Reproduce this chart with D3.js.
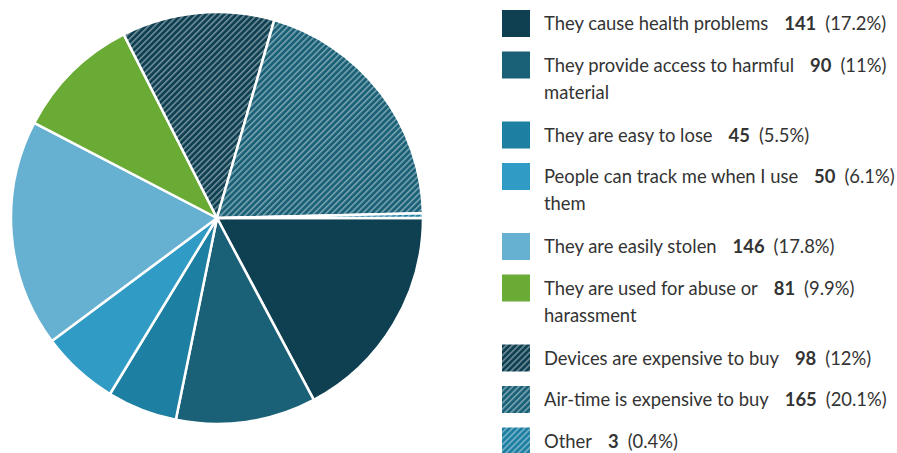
<!DOCTYPE html>
<html><head><meta charset="utf-8">
<script src="https://cdn.jsdelivr.net/npm/d3@7"></script>
<style>body{margin:0;background:#fff;} text{font-family:Lato, "Open Sans", sans-serif;}</style>
</head><body>
<svg id="c" width="897" height="453"></svg>
<script>
const categories = [
  ["They cause health problems"],
  ["They provide access to harmful", "material"],
  ["They are easy to lose"],
  ["People can track me when I use", "them"],
  ["They are easily stolen"],
  ["They are used for abuse or", "harassment"],
  ["Devices are expensive to buy"],
  ["Air-time is expensive to buy"],
  ["Other"]
];
const values = [141, 90, 45, 50, 146, 81, 98, 165, 3];
const percents = ["17.2%", "11%", "5.5%", "6.1%", "17.8%", "9.9%", "12%", "20.1%", "0.4%"];
const colors = ["#0f4052", "#1a6178", "#1d7fa1", "#309cc5", "#66b0d2", "#6aab35", "#0f4052", "#1a6178", "#1d7fa1"];
const hatched = [false, false, false, false, false, false, true, true, true];

const svg = d3.select("#c");
const defs = svg.append("defs");
colors.forEach((c, i) => {
  if (!hatched[i]) return;
  const p = defs.append("pattern").attr("id", "h" + i).attr("patternUnits", "userSpaceOnUse")
    .attr("width", 4.3).attr("height", 4.3).attr("patternTransform", "rotate(45)");
  p.append("rect").attr("width", 4.3).attr("height", 4.3).attr("fill", c);
  p.append("line").attr("x1", 0.8).attr("y1", 0).attr("x2", 0.8).attr("y2", 4.3)
    .attr("stroke", "#fff").attr("stroke-opacity", 0.58).attr("stroke-width", 1.1);
});
const fillOf = i => hatched[i] ? `url(#h${i})` : colors[i];

const cx = 217, cy = 218, R = 206;
const pie = d3.pie().sort(null).startAngle(Math.PI / 2).endAngle(Math.PI / 2 + 2 * Math.PI);
const arc = d3.arc().innerRadius(0).outerRadius(R);
svg.append("g").attr("transform", `translate(${cx},${cy})`)
  .selectAll("path").data(pie(values)).join("path")
  .attr("d", arc).attr("fill", (d, i) => fillOf(i))
  .attr("stroke", "#fff").attr("stroke-width", 2.5).attr("stroke-linejoin", "round");

// legend
const rowY = [];
let y = 23.5;
categories.forEach((lines, i) => { rowY.push(y); y += lines.length > 1 ? 70 : 41.5; });
const lg = svg.append("g");
const fs = 18.4;
categories.forEach((lines, i) => {
  const g = lg.append("g").attr("transform", `translate(0,${rowY[i]})`);
  g.append("rect").attr("x", 502).attr("y", -13.5).attr("width", 28).attr("height", 27)
    .attr("fill", fillOf(i));
  const t = g.append("text").attr("x", 544).attr("y", 6.5).attr("font-size", fs).attr("fill", "#333");
  t.append("tspan").text(lines[0]);
  t.append("tspan").attr("dx", 16).attr("font-weight", "bold").text(values[i]);
  t.append("tspan").attr("dx", 9).text(`(${percents[i]})`);
  for (let k = 1; k < lines.length; k++) {
    g.append("text").attr("x", 544).attr("y", 6.5 + 27 * k).attr("font-size", fs).attr("fill", "#333").text(lines[k]);
  }
});
</script>
</body></html>
